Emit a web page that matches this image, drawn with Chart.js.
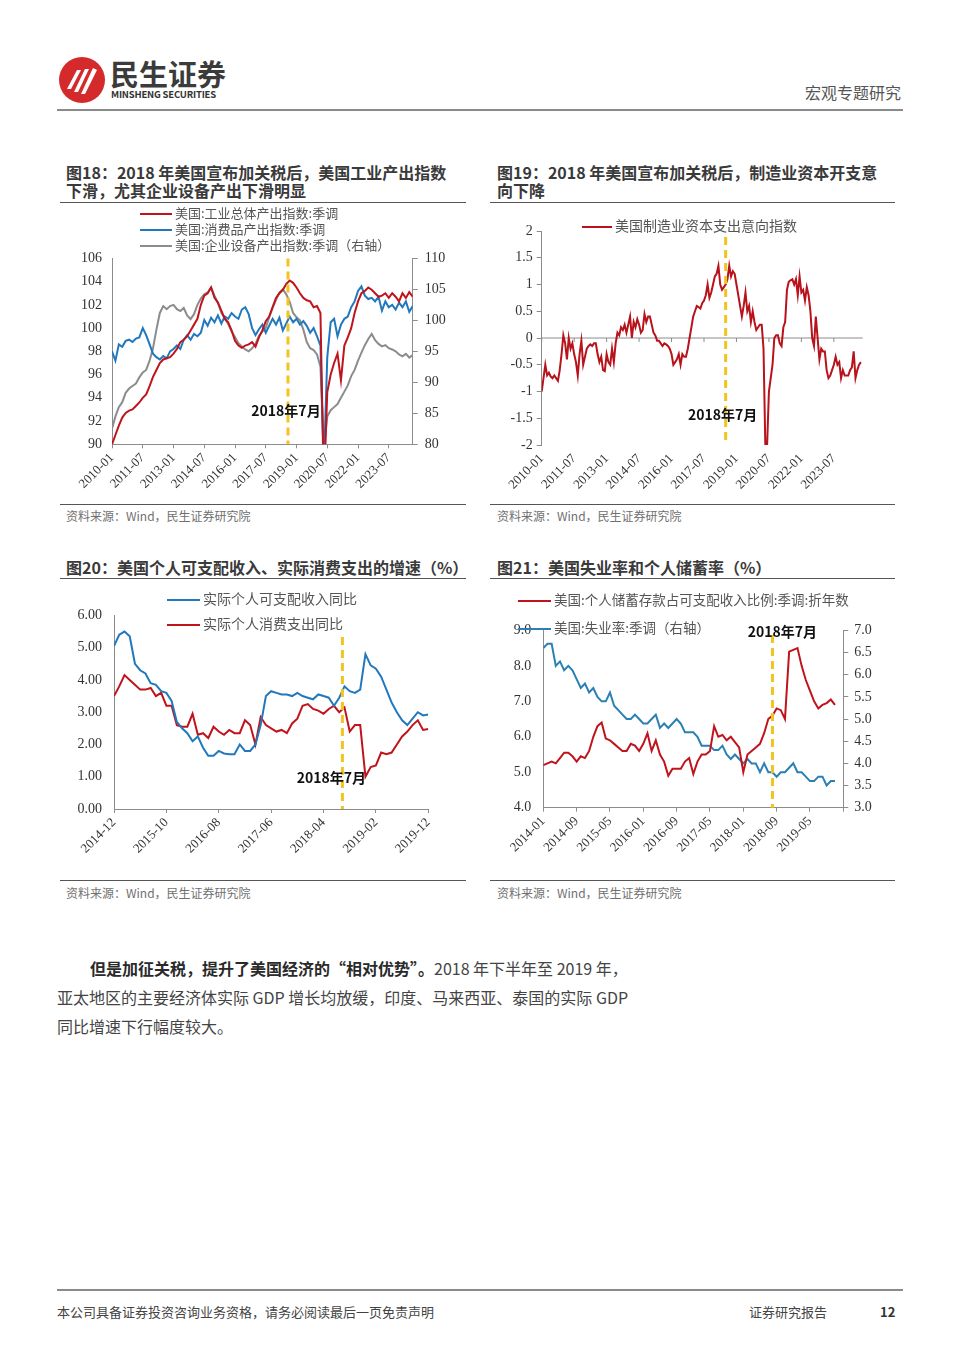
<!DOCTYPE html>
<html lang="zh-CN">
<head>
<meta charset="utf-8">
<title>宏观专题研究</title>
<script src="https://cdn.jsdelivr.net/npm/chart.js@4.4.1/dist/chart.umd.min.js"></script>
<style>
  body { margin: 0; background: #fff; }
  #page { position: relative; width: 960px; height: 1357px; overflow: hidden;
          font-family: "Noto Sans CJK SC", "Noto Sans", sans-serif; color: #333; }
  .abs { position: absolute; white-space: nowrap; }
  .rule { position: absolute; height: 0; border-top: 2px solid #8a8a8a; }
  .thin { border-top: 1.5px solid #555; }
  .title { font-size: 16px; font-weight: bold; line-height: 18px; color: #3a3a3a; }
  .src { font-size: 12px; line-height: 16px; color: #707070; }
  canvas { position: absolute; }
  .lg { position: absolute; color: #555; white-space: nowrap; }
  .lg i { display: inline-block; vertical-align: middle; height: 2px; margin-right: 3px; }
  .body { font-size: 16px; line-height: 29px; color: #444; }
  .body b { color: #2a2a2a; }
</style>
</head>
<body>
<div id="page">
  <!-- header -->
  <svg class="abs" style="left:58px;top:56px" width="48" height="48" viewBox="0 0 48 48">
    <circle cx="24" cy="24" r="23" fill="#d42a2c"/>
    <path d="M9 33 L19 14 L23 14 L13 33 Z" fill="#fff"/>
    <path d="M16 36 L27 13 L31 13 L20 36 Z" fill="#fff"/>
    <path d="M23 38 L35 12 L39 14 L27 38 Z" fill="#fff"/>
  </svg>
  <div class="abs" style="left:110px;top:55px;font-size:29px;line-height:36px;font-weight:bold;color:#3b3b3b">民生证券</div>
  <div class="abs" style="left:111px;top:88px;font-size:9.5px;line-height:12px;font-weight:bold;color:#333;letter-spacing:-0.2px">MINSHENG SECURITIES</div>
  <div class="abs" style="left:805px;top:82px;font-size:16px;line-height:20px;color:#555">宏观专题研究</div>
  <div class="rule" style="left:57px;top:109px;width:846px"></div>

  <!-- figure titles -->
  <div class="abs title" style="left:66px;top:163px">图18：2018 年美国宣布加关税后，美国工业产出指数<br>下滑，尤其企业设备产出下滑明显</div>
  <div class="abs title" style="left:497px;top:163px">图19：2018 年美国宣布加关税后，制造业资本开支意<br>向下降</div>
  <div class="rule thin" style="left:60px;top:202px;width:406px"></div>
  <div class="rule thin" style="left:490px;top:202px;width:405px"></div>

  <div class="rule thin" style="left:60px;top:504px;width:406px"></div>
  <div class="rule thin" style="left:490px;top:504px;width:405px"></div>
  <div class="abs src" style="left:66px;top:508px">资料来源：Wind，民生证券研究院</div>
  <div class="abs src" style="left:497px;top:508px">资料来源：Wind，民生证券研究院</div>

  <div class="abs title" style="left:66px;top:558px">图20：美国个人可支配收入、实际消费支出的增速（%）</div>
  <div class="abs title" style="left:497px;top:558px">图21：美国失业率和个人储蓄率（%）</div>
  <div class="rule thin" style="left:60px;top:578px;width:406px"></div>
  <div class="rule thin" style="left:490px;top:578px;width:405px"></div>

  <div class="rule thin" style="left:60px;top:880px;width:406px"></div>
  <div class="rule thin" style="left:490px;top:880px;width:405px"></div>
  <div class="abs src" style="left:66px;top:885px">资料来源：Wind，民生证券研究院</div>
  <div class="abs src" style="left:497px;top:885px">资料来源：Wind，民生证券研究院</div>

  <canvas id="c18" width="410" height="262" style="left:60px;top:240px"></canvas>
  <canvas id="c19" width="420" height="287" style="left:490px;top:215px"></canvas>
  <canvas id="c20" width="410" height="275" style="left:60px;top:595px"></canvas>
  <canvas id="c21" width="420" height="260" style="left:490px;top:610px"></canvas>

  <!-- body text -->
  <div class="abs body" style="left:57px;top:954px">
    <div style="padding-left:33px"><b>但是加征关税，提升了美国经济的“相对优势”。</b>2018 年下半年至 2019 年，</div>
    <div>亚太地区的主要经济体实际 GDP 增长均放缓，印度、马来西亚、泰国的实际 GDP</div>
    <div>同比增速下行幅度较大。</div>
  </div>

  <!-- footer -->
  <div class="rule" style="left:57px;top:1289px;width:846px"></div>
  <div class="abs" style="left:57px;top:1303px;font-size:13px;line-height:18px;color:#444">本公司具备证券投资咨询业务资格，请务必阅读最后一页免责声明</div>
  <div class="abs" style="left:749px;top:1303px;font-size:13px;line-height:18px;color:#444">证券研究报告</div>
  <div class="abs" style="left:880px;top:1303px;font-size:13px;line-height:18px;color:#333;font-weight:bold">12</div>
</div>

<script>
// ---------- data ----------
// Fig 18: one value every 2 months from 2010-01
const xTicks18 = ['2010-01','2011-07','2013-01','2014-07','2016-01','2017-07','2019-01','2020-07','2022-01','2023-07'];
const step18 = 2;
const indTotal = [
  90.0, 90.8, 91.6, 92.3, 92.7, 92.9, 93.0, 93.3, 93.6, 94.0,
  94.3, 95.0, 95.8, 96.4, 97.0, 97.3, 97.4, 97.5, 97.8, 98.2,
  98.8, 99.0, 99.3, 99.8, 100.3, 100.8, 102.0, 102.8, 103.0, 103.5,
  102.6, 102.2, 101.5, 100.8, 100.5, 99.8, 98.9, 98.5, 98.3, 98.5,
  98.6, 98.8, 98.4, 99.2, 99.8, 100.6, 101.0, 101.8, 102.6, 103.0,
  103.3, 103.8, 104.1, 103.9, 103.5, 103.0, 102.6, 102.4, 102.3, 101.8,
  101.9, 101.3, 86.0, 94.5, 96.0, 97.0, 97.8, 95.5, 98.5, 99.2,
  100.0, 101.3, 102.3, 103.0, 103.2, 103.5, 103.3, 103.0, 102.7, 102.8,
  103.0, 102.6, 103.0, 102.7, 102.3, 103.0, 102.6, 103.1, 102.7
];
const consGoods = [
  98.0, 97.2, 98.6, 98.4, 98.9, 99.0, 98.8, 99.1, 99.2, 100.0,
  99.4, 98.6, 97.8, 97.5, 97.3, 97.6, 97.4, 98.0, 98.2, 98.5,
  98.2, 99.0, 99.4, 99.0, 99.5, 99.3, 99.6, 100.7, 100.2, 100.9,
  100.5, 101.1, 100.4, 101.0, 100.8, 101.3, 101.0, 100.8, 101.6, 101.8,
  101.2, 100.0, 99.4, 99.9, 100.3, 99.6, 100.2, 100.8, 100.3, 100.9,
  99.8, 100.4, 101.0, 100.5, 100.8, 100.3, 100.6, 100.2, 99.6, 100.0,
  99.3, 98.5, 88.0, 97.5, 100.5, 100.8, 99.3, 100.3, 100.8, 101.0,
  101.8, 102.3, 103.2, 103.6, 102.8, 102.5, 102.6, 102.3, 102.7, 101.5,
  102.3, 101.8, 102.0, 101.6, 102.2, 101.8, 102.3, 101.4, 101.9
];
const bizEquip = [
  82.5, 84.5, 86.0, 86.8, 88.3, 89.0, 89.4, 89.8, 90.8, 91.6,
  92.0, 93.5, 95.5, 98.5, 101.2, 102.3, 101.8, 102.3, 102.5, 101.8,
  101.5, 102.0, 100.8, 100.2, 101.0, 102.5, 103.5, 104.2, 104.5, 105.3,
  104.0, 102.8, 101.2, 100.3, 99.4, 98.2, 97.3, 96.3, 95.8, 95.3,
  95.0, 95.5, 96.2, 97.5, 98.2, 98.8, 100.5, 102.0, 103.3, 104.5,
  105.0, 104.2, 103.0, 101.2, 100.5, 100.0, 98.5, 96.5, 95.5, 95.2,
  94.5, 92.5, 79.0, 84.5, 85.5, 86.0, 86.5, 87.5, 88.5, 89.5,
  91.0, 92.0, 93.5, 94.8, 96.0, 97.0, 97.8, 96.8, 96.2, 95.8,
  96.0, 95.5, 95.3, 95.0, 94.5, 94.2, 94.6, 94.0, 94.4
];

// Fig 19: monthly from 2010-01
const xTicks19 = ['2010-01','2011-07','2013-01','2014-07','2016-01','2017-07','2019-01','2020-07','2022-01','2023-07'];
const capexIntent = [
  -1.0, -0.75, -0.5, -0.7, -0.65, -0.72, -0.75, -0.7, -0.75, -0.8, -0.6, -0.3,
  0.05, -0.1, -0.4, 0.0, -0.2, -0.1, -0.3, -0.45, -0.7, -0.3, -0.05, -0.5,
  -0.35, -0.2, -0.15, -0.12, -0.15, -0.1, -0.1, -0.3, -0.45, -0.35, -0.6, -0.62,
  -0.3, -0.45, -0.5, -0.2, -0.45, -0.1, 0.1, 0.05, 0.2, 0.15, 0.25, 0.1,
  0.25, 0.4, 0.0, 0.3, 0.2, 0.35, 0.25, 0.1, 0.15, 0.45, 0.3, 0.4,
  0.4, 0.25, 0.1, 0.05, -0.05, -0.05, -0.1, -0.15, -0.1, -0.12, -0.15, -0.2,
  -0.3, -0.5, -0.45, -0.4, -0.3, -0.5, -0.3, -0.35, -0.35, -0.2, 0.0, 0.2,
  0.4, 0.5, 0.6, 0.58, 0.55, 0.65, 0.7, 0.8, 1.0, 0.75, 0.85, 1.0,
  1.15, 1.2, 1.35, 1.0, 0.9, 0.95, 1.0, 1.1, 1.35, 1.15, 1.25, 1.2,
  1.0, 0.8, 0.6, 0.4, 0.6, 0.85, 0.5, 0.6, 0.3, 0.5, 0.3, 0.15,
  0.2, 0.25, 0.25, -0.2, -2.0, -2.0, -1.0, -0.75, -0.5, 0.0, 0.05, 0.05,
  -0.1, -0.15, 0.2, 0.3, 0.9, 1.05, 1.08, 1.1, 1.0, 1.1, 0.8, 1.15,
  0.85, 0.9, 0.7, 0.95, 0.8, 0.5, 0.0, -0.15, 0.4, 0.0, -0.4, -0.2,
  -0.25, -0.25, -0.6, -0.75, -0.7, -0.6, -0.5, -0.35, -0.5, -0.45, -0.75, -0.6,
  -0.7, -0.7, -0.7, -0.6, -0.55, -0.25, -0.75, -0.6, -0.5, -0.45
];

// Fig 20: monthly from 2014-12
const xTicks20 = ['2014-12','2015-10','2016-08','2017-06','2018-04','2019-02','2019-12'];
const dispIncome = [
  5.05, 5.4, 5.5, 5.35, 4.5, 4.3, 4.2, 3.9, 3.85, 3.65,
  3.6, 3.35, 2.7, 2.5, 2.35, 2.1, 2.25, 1.9, 1.65, 1.65,
  1.8, 1.72, 1.7, 1.7, 2.0, 1.8, 1.8, 2.0, 2.6, 3.5,
  3.65, 3.6, 3.55, 3.55, 3.5, 3.6, 3.5, 3.45, 3.4, 3.55,
  3.5, 3.45, 3.2, 3.45, 3.8, 3.65, 3.6, 3.7, 4.8, 4.45,
  4.35, 4.1, 3.7, 3.3, 3.0, 2.75, 2.6, 2.8, 3.0, 2.9, 2.93
];
const realPce = [
  3.5, 3.8, 4.15, 4.0, 3.85, 3.7, 3.7, 3.75, 3.5, 3.6,
  3.2, 3.2, 2.6, 2.55, 2.55, 2.95, 2.3, 2.35, 2.2, 2.55,
  2.4, 2.3, 2.45, 2.35, 2.35, 2.75, 2.6, 2.0, 2.85, 2.6,
  2.5, 2.4, 2.45, 2.35, 2.65, 2.8, 3.2, 3.25, 3.1, 3.05,
  2.95, 3.1, 3.2, 3.0, 3.15, 2.4, 2.6, 2.6, 1.0, 1.3,
  1.35, 1.75, 1.7, 1.75, 2.0, 2.25, 2.4, 2.6, 2.75, 2.45, 2.48
];

// Fig 21: monthly from 2014-01
const xTicks21 = ['2014-01','2014-09','2015-05','2016-01','2016-09','2017-05','2018-01','2018-09','2019-05'];
const savingRate = [
  5.2, 5.25, 5.3, 5.25, 5.4, 5.55, 5.55, 5.45, 5.3, 5.45, 5.4, 5.6,
  6.0, 6.3, 6.4, 5.95, 5.9, 5.8, 5.7, 5.6, 5.6, 5.8, 5.75, 5.6,
  5.8, 6.1, 5.6, 5.9, 5.5, 5.3, 4.9, 5.1, 5.1, 5.1, 5.3, 5.4,
  4.95, 5.3, 5.5, 5.5, 5.6, 6.3, 6.0, 6.05, 5.9, 6.0, 5.85, 5.7,
  5.0, 5.5, 5.6, 5.7, 5.8, 6.1, 6.5, 6.6, 6.8, 6.75, 6.5, 8.4,
  8.45, 8.5, 8.0, 7.6, 7.3, 7.0, 6.8, 6.9, 6.95, 7.05, 6.9
];
const unemployment = [
  6.6, 6.7, 6.7, 6.2, 6.3, 6.1, 6.2, 6.1, 5.9, 5.7, 5.8, 5.6,
  5.7, 5.5, 5.4, 5.4, 5.6, 5.3, 5.2, 5.1, 5.0, 5.0, 5.1, 5.0,
  4.9, 4.9, 5.0, 5.1, 4.8, 4.9, 4.8, 4.9, 5.0, 4.9, 4.7, 4.7,
  4.7, 4.6, 4.4, 4.4, 4.4, 4.3, 4.3, 4.4, 4.2, 4.1, 4.2, 4.1,
  4.0, 4.1, 4.0, 4.0, 3.8, 4.0, 3.8, 3.8, 3.7, 3.8, 3.8, 3.9,
  4.0, 3.8, 3.8, 3.7, 3.6, 3.6, 3.7, 3.7, 3.5, 3.6, 3.6
];

// ---------- helpers ----------
const RED = '#c0141c';
const BLUE = '#2178bd';
const GREY = '#8c8c8c';
const YELLOW = '#f2c41f';
const AXIS = '#8c8c8c';
const TICK_COLOR = '#333';
const SERIF = '"Liberation Serif", "DejaVu Serif", serif';

const pts = (values, step) => values.map((v, i) => ({ x: i * step, y: v }));

function line(label, color, data, axis) {
  return { label, data, borderColor: color, backgroundColor: color, borderWidth: 2,
           pointRadius: 0, tension: 0, yAxisID: axis || 'y' };
}

function monthAxis(max, every, labels, height, showLine) {
  return {
    type: 'linear', min: 0, max: max,
    afterBuildTicks: s => {
      const t = [];
      for (let v = 0; v <= max; v += every) t.push({ value: v });
      s.ticks = t;
    },
    afterFit: s => { s.height = height; },
    ticks: { autoSkip: false, minRotation: 45, maxRotation: 45, padding: 2,
             font: { family: SERIF, size: 13 }, color: TICK_COLOR,
             callback: (v, i) => labels[i] || '' },
    grid: { display: showLine, drawOnChartArea: false, drawTicks: true, tickLength: 4, color: AXIS },
    border: { display: showLine, color: AXIS }
  };
}

function valueAxis(pos, min, max, step, digits, width, marks, pad) {
  return {
    type: 'linear', position: pos, min, max,
    ticks: { stepSize: step, padding: pad, font: { family: SERIF, size: 14 }, color: TICK_COLOR,
             callback: v => digits === null ? String(v) : v.toFixed(digits) },
    grid: { drawOnChartArea: false, drawTicks: marks, tickLength: 5, color: AXIS },
    border: { color: AXIS },
    afterFit: s => { s.width = width; }
  };
}

// dashed "2018年7月" marker
const markerPlugin = {
  id: 'marker',
  afterDatasetsDraw(chart, args, o) {
    const { ctx, chartArea, scales } = chart;
    const x = scales.x.getPixelForValue(o.x);
    ctx.save();
    ctx.strokeStyle = YELLOW;
    ctx.lineWidth = 3;
    ctx.setLineDash([8, 5]);
    ctx.beginPath();
    ctx.moveTo(x, o.top || chartArea.top);
    ctx.lineTo(x, chartArea.bottom);
    ctx.stroke();
    ctx.setLineDash([]);
    ctx.font = 'bold 14px "Noto Sans CJK SC"';
    ctx.fillStyle = '#111';
    ctx.textAlign = 'center';
    ctx.textBaseline = 'middle';
    ctx.fillText(o.text, x + o.dx, o.y);
    ctx.restore();
  }
};

// horizontal axis through zero with tick marks (fig 19)
const zeroAxisPlugin = {
  id: 'zeroAxis',
  beforeDatasetsDraw(chart) {
    const { ctx, chartArea: a, scales: { x, y } } = chart;
    const y0 = y.getPixelForValue(0);
    ctx.save();
    ctx.strokeStyle = AXIS;
    ctx.lineWidth = 1;
    ctx.beginPath();
    ctx.moveTo(a.left, y0);
    ctx.lineTo(a.right, y0);
    x.ticks.forEach(t => {
      const px = x.getPixelForValue(t.value);
      ctx.moveTo(px, y0);
      ctx.lineTo(px, y0 + 4);
    });
    ctx.stroke();
    ctx.restore();
  }
};

function baseOptions(padding, scales, marker) {
  return {
    responsive: false, animation: false, events: [],
    layout: { padding },
    scales,
    plugins: { legend: { display: false }, tooltip: { enabled: false }, marker }
  };
}

function htmlLegend(chart, left, top, rowH, lineW, fontPx) {
  const box = document.createElement('div');
  box.className = 'lg';
  box.style.left = left + 'px';
  box.style.top = top + 'px';
  box.style.fontSize = fontPx + 'px';
  chart.data.datasets.forEach(ds => {
    const row = document.createElement('div');
    row.style.height = rowH + 'px';
    row.style.lineHeight = rowH + 'px';
    const sw = document.createElement('i');
    sw.style.width = lineW + 'px';
    sw.style.background = ds.borderColor;
    row.appendChild(sw);
    row.appendChild(document.createTextNode(ds.label));
    box.appendChild(row);
  });
  document.getElementById('page').appendChild(box);
}

// ---------- charts ----------
const chart18 = new Chart(document.getElementById('c18'), {
  type: 'line',
  data: { datasets: [
    line('美国:工业总体产出指数:季调', RED, pts(indTotal, step18)),
    line('美国:消费品产出指数:季调', BLUE, pts(consGoods, step18)),
    line('美国:企业设备产出指数:季调（右轴）', GREY, pts(bizEquip, step18), 'y2')
  ] },
  options: baseOptions({ top: 14.5, left: 0, right: 0, bottom: 0 }, {
    x: monthAxis(176, 18, xTicks18, 57.7, true),
    y: valueAxis('left', 90, 106, 2, 0, 52, false, 10),
    y2: valueAxis('right', 80, 110, 5, 0, 57.3, true, 7)
  }, { x: 103, dx: -2, y: 171, text: '2018年7月' }),
  plugins: [markerPlugin]
});
htmlLegend(chart18, 140, 205, 16, 32, 13);

const chart19 = new Chart(document.getElementById('c19'), {
  type: 'line',
  data: { datasets: [ line('美国制造业资本支出意向指数', '#b8121b', pts(capexIntent, 1)) ] },
  options: baseOptions({ top: 16, left: 0, right: 47.3, bottom: 0 }, {
    x: monthAxis(178, 18, xTicks19, 57, false),
    y: valueAxis('left', -2, 2, 0.5, null, 51.7, true, 4)
  }, { x: 102, dx: -3, y: 200, top: 22, text: '2018年7月' }),
  plugins: [zeroAxisPlugin, markerPlugin]
});
htmlLegend(chart19, 582, 215, 20, 30, 14);

const chart20 = new Chart(document.getElementById('c20'), {
  type: 'line',
  data: { datasets: [
    line('实际个人可支配收入同比', BLUE, pts(dispIncome, 1)),
    line('实际个人消费支出同比', RED, pts(realPce, 1))
  ] },
  options: baseOptions({ top: 14.5, left: 0, right: 41.7, bottom: 0 }, {
    x: monthAxis(60, 10, xTicks20, 61, true),
    y: valueAxis('left', 0, 6, 1, 2, 54, false, 12)
  }, { x: 43.6, dx: -11, y: 183, top: 42, text: '2018年7月' }),
  plugins: [markerPlugin]
});
htmlLegend(chart20, 167, 585.5, 25, 33, 14);

const chart21 = new Chart(document.getElementById('c21'), {
  type: 'line',
  data: { datasets: [
    line('美国:个人储蓄存款占可支配收入比例:季调:折年数', RED, pts(savingRate, 1)),
    line('美国:失业率:季调（右轴）', '#2a80b4', pts(unemployment, 1), 'y2')
  ] },
  options: baseOptions({ top: 16.7, left: 0, right: 0, bottom: 0 }, {
    x: monthAxis(72, 8, xTicks21, 62.3, true),
    y: valueAxis('left', 4, 9, 1, 1, 53.3, false, 12),
    y2: valueAxis('right', 3, 7, 0.5, 1, 66.7, true, 6)
  }, { x: 55, dx: 10, y: 22, top: 25, text: '2018年7月' }),
  plugins: [markerPlugin]
});
htmlLegend(chart21, 518, 585, 28, 33, 13.5);
</script>
</body>
</html>
